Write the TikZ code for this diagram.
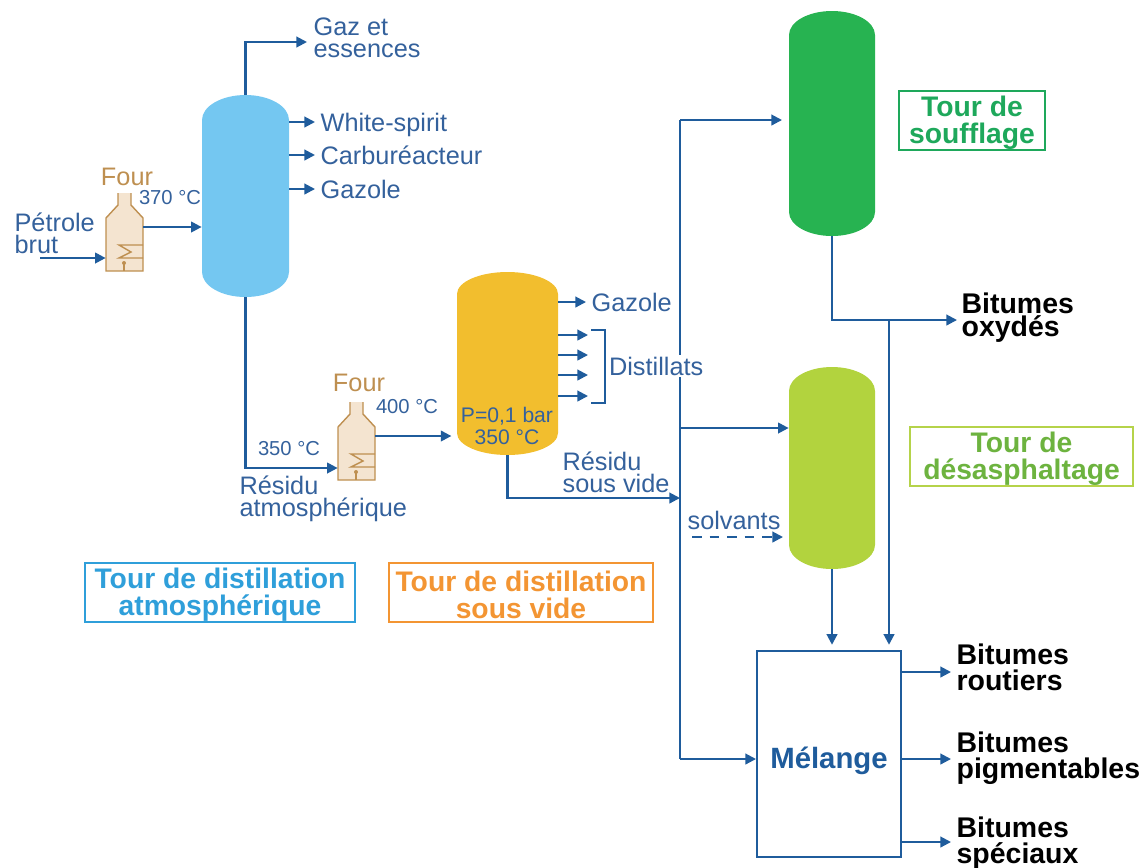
\documentclass[tikz,border=0pt]{standalone}
\usepackage{fontspec}
\setmainfont{Liberation Sans}
\usepackage{xcolor}
\usetikzlibrary{arrows.meta}

\definecolor{bleuTrait}{HTML}{1F5C9C}
\definecolor{bleuTexte}{HTML}{34619C}
\definecolor{brunFour}{HTML}{BE8F50}
\definecolor{beigeFour}{HTML}{F4E4D0}
\definecolor{bleuTour}{HTML}{74C7F1}
\definecolor{jauneTour}{HTML}{F2BE2E}
\definecolor{vertTour}{HTML}{27B351}
\definecolor{anisTour}{HTML}{B2D33E}
\definecolor{bleuCadre}{HTML}{2F9FDA}
\definecolor{orangeCadre}{HTML}{F39533}
\definecolor{vertCadre}{HTML}{1EA85B}
\definecolor{anisCadre}{HTML}{B5D34A}
\definecolor{anisTexte}{HTML}{6DB33F}

\tikzset{
    fleche/.style={draw=bleuTrait, line width=1.2pt, -{Triangle[length=6pt,width=6pt]}},
    trait/.style={draw=bleuTrait, line width=1.2pt},
    etiq/.style={text=bleuTexte, inner sep=3pt, anchor=west, align=left, font=\fontsize{14.4}{12.6}\selectfont},
    petit/.style={text=bleuTexte, inner sep=0pt, align=center, font=\fontsize{11.5}{12.5}\selectfont},
    produit/.style={text=black, inner sep=3pt, anchor=west, align=left, font=\bfseries\fontsize{16.2}{14.6}\selectfont},
    cadre/.style={inner sep=0pt, line width=1.15pt, minimum height=1.18cm},
    titre/.style={inner sep=0pt, align=center, yshift=-1.4pt, font=\bfseries\fontsize{16.1}{15.2}\selectfont},
    nomfour/.style={text=brunFour, inner sep=0pt, font=\fontsize{14.4}{14}\selectfont},
    fourbox/.style={inner sep=0pt, minimum width=0.74cm, minimum height=1.06cm},
    fourligne/.style={draw=brunFour, line width=0.8pt},
}

\begin{document}
\begin{tikzpicture}[x=0.02cm, y=-0.02cm]
    \useasboundingbox (0,0) rectangle (1146,867);
    % tours
    \foreach \nom/\xa/\xb/\ya/\yb/\ry/\coul in {tourAtm/202/289/95/297/25/bleuTour,
        tourVide/457/558/272/455/22/jauneTour, tourSouf/789/875/11/236/24/vertTour,
        tourDes/789/875/367/569/24/anisTour} {
        \fill[\coul] (\xa,\ya+\ry) arc (180:360:{(\xb-\xa)/2} and \ry) -- (\xb,\yb-\ry)
            arc (0:180:{(\xb-\xa)/2} and \ry) -- cycle;
        \node[inner sep=0pt, minimum width={(\xb-\xa)*0.02cm}, minimum height={(\yb-\ya)*0.02cm}]
            (\nom) at ({(\xa+\xb)/2},{(\ya+\yb)/2}) {};
    }
    % premier four
    \begin{scope}
        \node[fourbox] (fourA) at (124.5,244.5) {};
        \filldraw[fourligne, fill=beigeFour] (118,193) -- (118,205) -- (106,218) -- (106,271) -- (143,271) -- (143,218) -- (131,205) -- (131,193);
        \draw[fourligne] (143,245) -- (119,245) -- (131,252) -- (119,258) -- (143,258);
        \draw[fourligne] (124,263) -- (124,271);
        \fill[brunFour] (124,263) circle (2);
        \node[nomfour] (fourTitreA) at (127,177) {Four};
    \end{scope}
    % second four
    \begin{scope}[shift={(232,209)}]
        \node[fourbox] (fourB) at (124.5,244.5) {};
        \filldraw[fourligne, fill=beigeFour] (118,193) -- (118,205) -- (106,218) -- (106,271) -- (143,271) -- (143,218) -- (131,205) -- (131,193);
        \draw[fourligne] (143,245) -- (119,245) -- (131,252) -- (119,258) -- (143,258);
        \draw[fourligne] (124,263) -- (124,271);
        \fill[brunFour] (124,263) circle (2);
        \node[nomfour] (fourTitreB) at (127,174) {Four};
    \end{scope}
    % textes de la partie gauche
    \node[etiq] (gaz) at (308,38) {Gaz et\\essences};
    \node[etiq, text depth=0pt] (white) at (315,122) {White-spirit};
    \node[etiq] (carbu) at (315,155) {Carburéacteur};
    \node[etiq] (gazoleA) at (315,189) {Gazole};
    \node[etiq] (brut) at (9,233) {Pétrole\\brut};
    \node[petit] (tempA) at (170,198) {370 °C};
    \node[petit] (tempB) at (407,407) {400 °C};
    \node[petit] (tempC) at (289,449) {350 °C};
    \node[etiq] (atmo) at (234,499) {Résidu\\atmosphérique};
    \node[petit, font=\fontsize{12}{12.6}\selectfont] (vide) at (507,426) {P=0,1 bar\\350 °C};
    \node[etiq] (gazoleB) at (586,302) {Gazole};
    \node[etiq] (sousvide) at (557,472) {Résidu\\sous vide};
    \node[etiq] (solv) at (682,520) {solvants};
    % conduites
    \coordinate (gazFin) at (307,42);
    \coordinate (entree) at (40,258);
    \coordinate (coude) at (246,468);
    \coordinate (jonction) at (680,498);
    \coordinate (hautV) at (680,120);
    \coordinate (basV) at (680,759);
    \coordinate (oxy) at (889,320);
    \draw[fleche] (tourAtm.north) |- (gazFin);
    \foreach \cible in {white,carbu,gazoleA}
        \draw[fleche] (tourAtm.east |- \cible.west) -- (\cible.west);
    \draw[fleche] (entree) -- (entree -| fourA.west);
    \draw[fleche] (fourA.east |- 0,227) -- (tourAtm.west |- 0,227);
    \draw[fleche] (tourAtm.south) |- (coude -| fourB.west);
    \draw[fleche] (fourB.east |- 0,436) -- ([xshift=-3pt]tourVide.west |- 0,436);
    \draw[fleche] (tourVide.east |- gazoleB.west) -- (gazoleB.west);
    \foreach \y in {335,355,375,396}
        \draw[fleche] (tourVide.east |- 0,\y) -- (588,\y);
    \draw[trait] (591,330) -- (605,330) -- (605,403) -- (591,403);
    \draw[trait] (hautV) -- (basV);
    \node[etiq, fill=white, inner sep=1pt, text depth=0pt] (distil) at (607,366) {Distillats};
    \draw[fleche] (tourVide.south) |- (jonction);
    \draw[fleche] (hautV) -- (782,120);
    \draw[fleche] (680,428) -- (tourDes.west |- 0,428);
    \draw[fleche, dash pattern=on 5.5pt off 4.5pt] (692,537) -- (783,537);
    % cadres de titre
    \node[cadre, draw=bleuCadre, minimum width=5.4cm] (titreAtm) at (220,592.5) {};
    \node[titre, text=bleuCadre] (texteAtm) at (titreAtm) {Tour de distillation\\atmosphérique};
    \node[cadre, draw=orangeCadre, minimum width=5.28cm] (titreVide) at (521,592.5) {};
    \node[titre, text=orangeCadre] (texteVide) at (titreVide) {Tour de distillation\\sous vide};
    \node[cadre, draw=vertCadre, minimum width=2.92cm] (titreSouf) at (972,120.5) {};
    \node[titre, text=vertCadre] (texteSouf) at (titreSouf) {Tour de\\soufflage};
    \node[cadre, draw=anisCadre, minimum width=4.46cm] (titreDes) at (1021.5,456.5) {};
    \node[titre, text=anisTexte] (texteDes) at (titreDes) {Tour de\\désasphaltage};
    % melange et produits
    \node[draw=bleuTrait, line width=1.15pt, inner sep=0pt, text=bleuTrait, text height=20pt, minimum width=2.88cm, minimum height=4.12cm, font=\bfseries\fontsize{16.7}{18}\selectfont] (melange) at (829,754) {Mélange};
    \node[produit, font=\bfseries\fontsize{16.2}{13}\selectfont] (bitOxy) at (956,318) {Bitumes\\oxydés};
    \node[produit] (bitRout) at (951,667) {Bitumes\\routiers};
    \node[produit] (bitPig) at (951,758) {Bitumes\\pigmentables};
    \node[produit] (bitSpe) at (951,843) {Bitumes\\spéciaux};
    \draw[fleche] (tourSouf.south) |- (oxy) -- (957,320);
    \draw[fleche] (oxy) -- ([yshift=3pt]oxy |- melange.north);
    \draw[fleche] (tourDes.south) -- ([yshift=3pt]tourDes.south |- melange.north);
    \draw[fleche] (basV) -- (melange.west |- basV);
    \draw[fleche] (melange.east |- 0,672) -- (bitRout.west |- 0,672);
    \draw[fleche] (melange.east |- 0,759) -- (bitPig.west |- 0,759);
    \draw[fleche] (melange.east |- 0,842) -- (bitSpe.west |- 0,842);
\end{tikzpicture}
\end{document}
